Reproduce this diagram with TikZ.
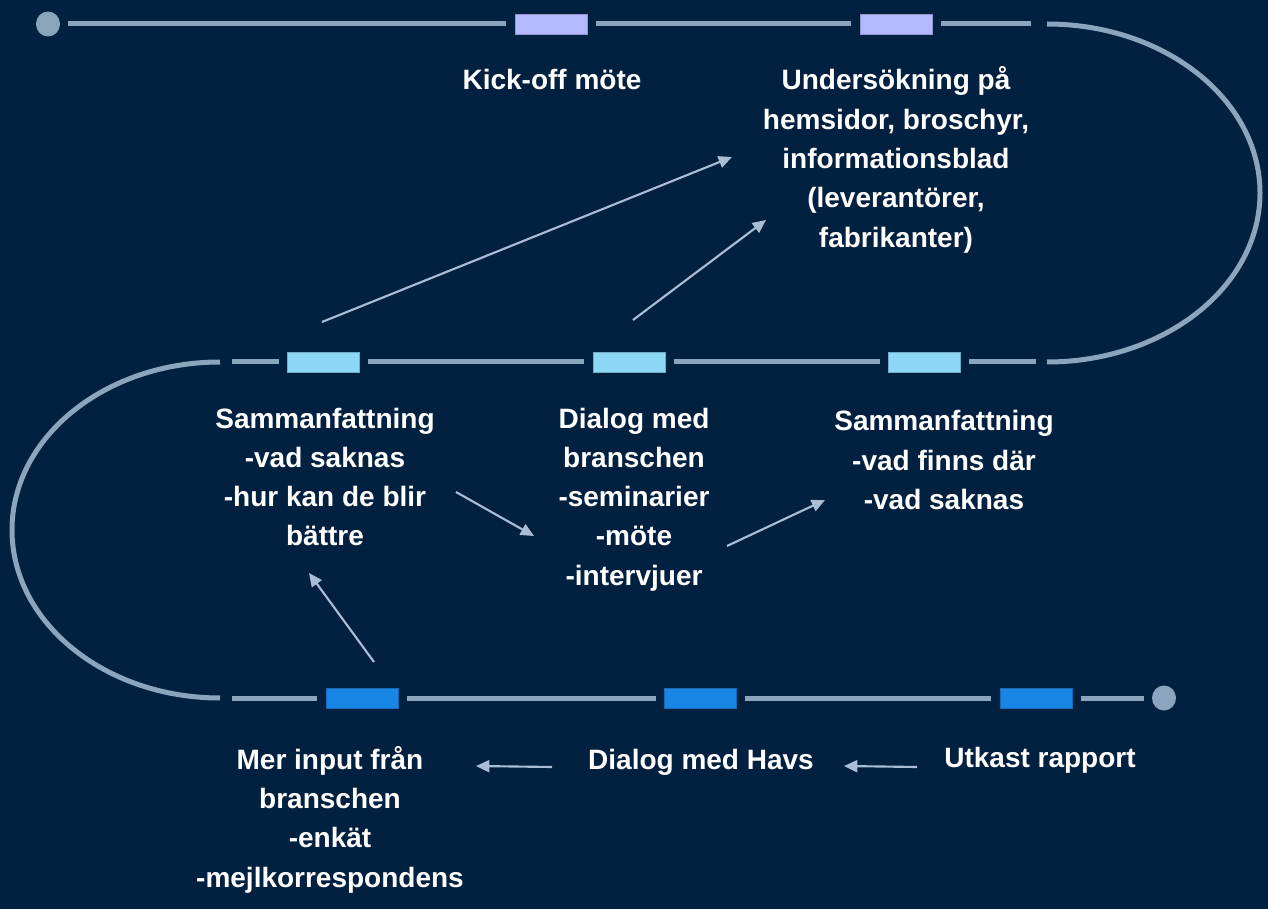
\documentclass[tikz,border=0pt]{standalone}
\usepackage{fontspec}
\setmainfont{Liberation Sans}
\usetikzlibrary{arrows.meta,shapes.geometric}
\definecolor{bgc}{HTML}{022040}
\definecolor{trackc}{HTML}{8CA5BE}
\definecolor{lavc}{HTML}{B4BAFF}
\definecolor{skyc}{HTML}{8CD8F5}
\definecolor{bluec}{HTML}{1985E5}
\definecolor{arrc}{HTML}{A9BDD6}
\begin{document}
\begin{tikzpicture}[x=0.75pt,y=0.75pt,
  track/.style={draw=trackc,line width=3.75pt},
  markbox/.style={rectangle,inner sep=0pt,minimum width=54pt,minimum height=15pt,outer xsep=6.5pt,outer ysep=0pt,draw=#1!80!black,line width=0.4pt,fill=#1},
  enddot/.style={ellipse,fill=trackc,inner sep=0pt,minimum width=18pt,minimum height=18.75pt,outer sep=6pt},
  lbl/.style={text=white,font=\bfseries\fontsize{21}{29.5}\selectfont,anchor=base,inner sep=0pt},
  arr/.style={draw=arrc,line width=1.6pt,-{Triangle[length=10pt,width=9pt]}}]
\fill[bgc] (0,0) rectangle (1268,-909);
\useasboundingbox (0,0) rectangle (1268,-909);
% top row
\node[enddot] (d1) at (48,-24) {};
\node[markbox=lavc] (b1) at (551,-24) {};
\node[markbox=lavc] (b2) at (896,-24) {};
\coordinate (r1) at (1031,-24);
\draw[track] (d1) -- (b1);
\draw[track] (b1) -- (b2);
\draw[track] (b2) -- (r1);
\draw[track] (1047,-24) arc[start angle=90,end angle=-90,x radius=159.75pt,y radius=126.75pt];
% middle row
\coordinate (ml) at (232,-362);
\coordinate (mr) at (1036,-362);
\node[markbox=skyc] (m1) at (323.5,-362) {};
\node[markbox=skyc] (m2) at (629,-362) {};
\node[markbox=skyc] (m3) at (924.5,-362) {};
\draw[track] (ml) -- (m1);
\draw[track] (m1) -- (m2);
\draw[track] (m2) -- (m3);
\draw[track] (m3) -- (mr);
\draw[track] (220,-362) arc[start angle=90,end angle=270,x radius=156pt,y radius=126pt];
% bottom row
\coordinate (bl) at (232,-698);
\node[markbox=bluec] (k1) at (362,-698) {};
\node[markbox=bluec] (k2) at (700.5,-698) {};
\node[markbox=bluec] (k3) at (1036,-698) {};
\node[enddot] (d2) at (1164,-698) {};
\draw[track] (bl) -- (k1);
\draw[track] (k1) -- (k2);
\draw[track] (k2) -- (k3);
\draw[track] (k3) -- (d2);
% labels
\node[lbl] (t1) at (552,-90) {Kick-off möte};
\node[lbl] (t2) at (896,-90) {\begin{tabular}[t]{@{}c@{}}Undersökning på\\hemsidor, broschyr,\\informationsblad\\(leverantörer,\\fabrikanter)\end{tabular}};
\node[lbl] (t3) at (325,-428) {\begin{tabular}[t]{@{}c@{}}Sammanfattning\\-vad saknas\\-hur kan de blir\\bättre\end{tabular}};
\node[lbl] (t4) at (634,-428) {\begin{tabular}[t]{@{}c@{}}Dialog med\\branschen\\-seminarier\\-möte\\-intervjuer\end{tabular}};
\node[lbl] (t5) at (944,-431) {\begin{tabular}[t]{@{}c@{}}Sammanfattning\\-vad finns där\\-vad saknas\end{tabular}};
\node[lbl] (t6) at (330,-769) {\begin{tabular}[t]{@{}c@{}}Mer input från\\branschen\\-enkät\\-mejlkorrespondens\end{tabular}};
\node[lbl] (t7) at (701,-769) {Dialog med Havs};
\node[lbl] (t8) at (1040,-767) {Utkast rapport};
% arrows
\coordinate (a1s) at (322,-322); \coordinate (a1e) at (732,-157);
\coordinate (a2s) at (633,-320); \coordinate (a2e) at (766,-220);
\coordinate (a3s) at (456,-492); \coordinate (a3e) at (534,-536);
\coordinate (a4s) at (727,-546); \coordinate (a4e) at (825,-500);
\coordinate (a5s) at (374,-662); \coordinate (a5e) at (309,-573);
\coordinate (a6s) at (552,-767); \coordinate (a6e) at (476,-766);
\coordinate (a7s) at (917,-767); \coordinate (a7e) at (844,-766);
\draw[arr] (a1s) -- (a1e);
\draw[arr] (a2s) -- (a2e);
\draw[arr] (a3s) -- (a3e);
\draw[arr] (a4s) -- (a4e);
\draw[arr] (a5s) -- (a5e);
\draw[arr] (a6s) -- (a6e);
\draw[arr] (a7s) -- (a7e);
\end{tikzpicture}
\end{document}
